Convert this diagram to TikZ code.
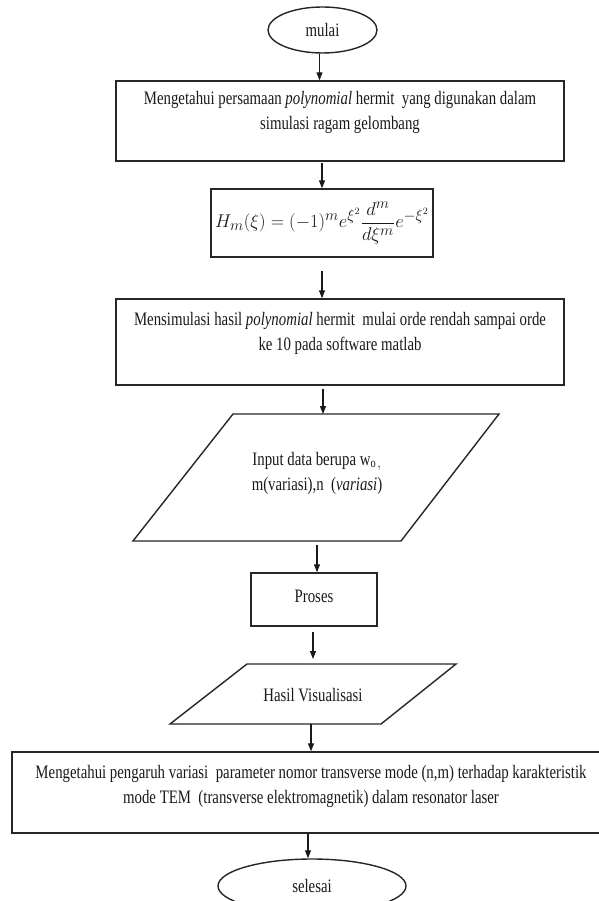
\documentclass[tikz,border=0pt]{standalone}
\usepackage{graphicx}
\usepackage{fontspec}
\setmainfont[FakeStretch=0.78]{Liberation Serif}
\usetikzlibrary{shapes.geometric,arrows.meta}
\begin{document}
\begin{tikzpicture}[x=1pt,y=-1pt,
  every node/.style={font=\fontsize{19}{25}\selectfont, text=black!90},
  frame/.style={draw=black!85, line width=1.4pt},
  para/.style={draw=black!85, line width=1.4pt, line join=miter},
  arr/.style={-{Triangle[length=8pt,width=6pt]}, line width=1.1pt, draw=black!90},
  lbl/.style={align=center, inner sep=0pt}]
\useasboundingbox (0,0) rectangle (598,901);

% start
\node[frame, ellipse, minimum width=109pt, minimum height=46pt, inner sep=0pt] (start) at (322.5,30) {mulai};

% box 1
\node[frame, rectangle, minimum width=448pt, minimum height=80pt, inner sep=0pt] (b1) at (340,121) {};
\node[lbl] (t1) at (340,112) {Mengetahui persamaan \textit{polynomial} hermit~ yang digunakan dalam\\simulasi ragam gelombang};

% formula
\node[frame, rectangle, minimum width=222pt, minimum height=68pt, inner sep=0pt] (f) at (322,223)
  {\resizebox{214pt}{!}{$\displaystyle H_m(\xi) = (-1)^m e^{\xi^2}\frac{d^m}{d\xi^m}e^{-\xi^2}$}};

% box 2
\node[frame, rectangle, minimum width=448pt, minimum height=86pt, inner sep=0pt] (b2) at (340,342) {};
\node[lbl] (t2) at (340,333) {Mensimulasi hasil \textit{polynomial} hermit~ mulai orde rendah sampai orde\\ke 10 pada software matlab};

% parallelogram 1
\coordinate (p1tl) at (233,414);
\coordinate (p1tr) at (499,414);
\coordinate (p1br) at (401,541);
\coordinate (p1bl) at (133,541);
\draw[para] (p1tl) -- (p1tr) -- (p1br) -- (p1bl) -- cycle;
\coordinate (p1top) at (323,414);
\coordinate (p1bot) at (317,541);
\node[lbl] (t3) at (317,473) {Input data berupa w$_{\mathrm{o,}}$\\m(variasi),n~ (\textit{variasi})};

% proses
\node[frame, rectangle, minimum width=126pt, minimum height=53pt, inner sep=0pt] (pr) at (314,599.5) {};
\node[lbl] (t4) at (314,596) {Proses};

% parallelogram 2
\coordinate (p2tl) at (247,664);
\coordinate (p2tr) at (456,664);
\coordinate (p2br) at (381,724);
\coordinate (p2bl) at (170,724);
\draw[para] (p2tl) -- (p2tr) -- (p2br) -- (p2bl) -- cycle;
\coordinate (p2top) at (313,664);
\coordinate (p2bot) at (311,724);
\node[lbl] (t5) at (313,695) {Hasil Visualisasi};

% box 3
\node[frame, rectangle, minimum width=598pt, minimum height=81pt, inner sep=0pt] (b3) at (311,792.5) {};
\node[lbl] (t6) at (311,786) {Mengetahui pengaruh variasi~ parameter nomor transverse mode (n,m) terhadap karakteristik\\mode TEM~ (transverse elektromagnetik) dalam resonator laser};

% end
\node[frame, ellipse, minimum width=188pt, minimum height=54pt, inner sep=0pt] (end) at (312,886) {selesai};

% connectors
\draw[arr] ([xshift=-3pt]start.south) -- ([xshift=-3pt]start.south |- b1.north);
\draw[arr] ([yshift=-1pt]b1.south -| f.north) -- (f.north);
\draw[arr] ([yshift=-13pt]f.south) -- (f.south |- b2.north);
\draw[arr] ([yshift=-3pt]b2.south -| p1top) -- (p1top);
\draw[arr] ([yshift=-4pt]p1bot) -- (p1bot |- pr.north);
\draw[arr] ([yshift=-5pt]pr.south -| p2top) -- ([yshift=5pt]p2top);
\draw[arr] (p2bot) -- (p2bot |- b3.north);
\draw[arr] ([xshift=-4pt]b3.south -| end.north) -- ([xshift=-4pt]end.north);
\end{tikzpicture}
\end{document}
